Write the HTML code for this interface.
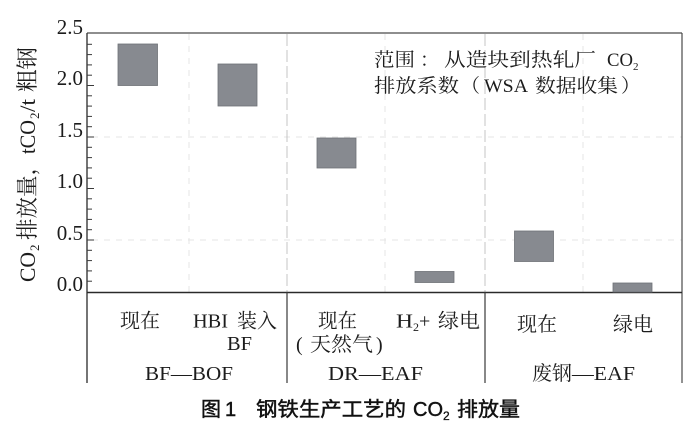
<!DOCTYPE html>
<html>
<head>
<meta charset="utf-8">
<style>
  html, body { margin: 0; padding: 0; background: #ffffff; }
  svg { display: block; }
  .serif { font-family: "Liberation Serif", "Noto Serif CJK SC", serif; fill: #1c1c1c; }
  .cjk { font-family: "Noto Serif CJK SC", "Liberation Serif", serif; fill: #1c1c1c; }
  .sans { font-family: "Liberation Sans", "Noto Sans CJK SC", sans-serif; fill: #111; }
</style>
</head>
<body>
<svg width="700" height="439" viewBox="0 0 700 439" xmlns="http://www.w3.org/2000/svg">
  <rect x="0" y="0" width="700" height="439" fill="#ffffff"/>

  <!-- faint gridlines -->
  <g stroke="#e4e4e4" stroke-width="1" stroke-dasharray="6,6" fill="none">
    <line x1="189" y1="34" x2="189" y2="292"/>
    <line x1="385" y1="34" x2="385" y2="292"/>
    <line x1="583" y1="34" x2="583" y2="292"/>
    <line x1="92" y1="137" x2="682" y2="137"/>
    <line x1="92" y1="240" x2="682" y2="240"/>
  </g>
  <g stroke="#c4c4c4" stroke-width="1" stroke-dasharray="12,4" fill="none">
    <line x1="287" y1="34" x2="287" y2="292"/>
    <line x1="485" y1="34" x2="485" y2="292"/>
  </g>

  <!-- frame -->
  <line x1="87" y1="33" x2="682" y2="33" stroke="#4a4a4a" stroke-width="1.2"/>
  <line x1="87" y1="33" x2="87" y2="383" stroke="#3a3a3a" stroke-width="1.4"/>
  <line x1="682" y1="33" x2="682" y2="383" stroke="#4a4a4a" stroke-width="1.2"/>
  <line x1="87" y1="292.5" x2="682" y2="292.5" stroke="#2a2a2a" stroke-width="1.6"/>
  <line x1="287" y1="292" x2="287" y2="383" stroke="#3a3a3a" stroke-width="1.2"/>
  <line x1="485" y1="292" x2="485" y2="383" stroke="#3a3a3a" stroke-width="1.2"/>

  <!-- y ticks -->
  <g stroke="#3a3a3a" stroke-width="1">
    <line x1="87" y1="44.3" x2="92" y2="44.3"/>
    <line x1="87" y1="54.6" x2="92" y2="54.6"/>
    <line x1="87" y1="64.9" x2="92" y2="64.9"/>
    <line x1="87" y1="75.2" x2="92" y2="75.2"/>
    <line x1="87" y1="85.5" x2="94" y2="85.5"/>
    <line x1="87" y1="95.8" x2="92" y2="95.8"/>
    <line x1="87" y1="106.1" x2="92" y2="106.1"/>
    <line x1="87" y1="116.4" x2="92" y2="116.4"/>
    <line x1="87" y1="126.7" x2="92" y2="126.7"/>
    <line x1="87" y1="137" x2="94" y2="137"/>
    <line x1="87" y1="147.3" x2="92" y2="147.3"/>
    <line x1="87" y1="157.6" x2="92" y2="157.6"/>
    <line x1="87" y1="167.9" x2="92" y2="167.9"/>
    <line x1="87" y1="178.2" x2="92" y2="178.2"/>
    <line x1="87" y1="188.5" x2="94" y2="188.5"/>
    <line x1="87" y1="198.8" x2="92" y2="198.8"/>
    <line x1="87" y1="209.1" x2="92" y2="209.1"/>
    <line x1="87" y1="219.4" x2="92" y2="219.4"/>
    <line x1="87" y1="229.7" x2="92" y2="229.7"/>
    <line x1="87" y1="240" x2="94" y2="240"/>
    <line x1="87" y1="250.3" x2="92" y2="250.3"/>
    <line x1="87" y1="260.6" x2="92" y2="260.6"/>
    <line x1="87" y1="270.9" x2="92" y2="270.9"/>
    <line x1="87" y1="281.2" x2="92" y2="281.2"/>
  </g>

  <!-- y tick labels -->
  <g class="serif" font-size="21" text-anchor="end">
    <text x="83" y="34">2.5</text>
    <text x="83" y="85">2.0</text>
    <text x="83" y="137">1.5</text>
    <text x="83" y="188">1.0</text>
    <text x="83" y="240">0.5</text>
    <text x="83" y="291">0.0</text>
  </g>

  <!-- y axis title (rotated) -->
  <g transform="translate(35,282) rotate(-90)">
    <text class="serif" x="0" y="0" font-size="22" textLength="30" lengthAdjust="spacingAndGlyphs">CO</text>
    <text class="serif" x="31" y="4" font-size="13">2</text>
    <text class="cjk" x="42" y="0" font-size="22" textLength="86" lengthAdjust="spacingAndGlyphs">排放量，</text>
    <text class="serif" x="128" y="0" font-size="22" textLength="34" lengthAdjust="spacingAndGlyphs">tCO</text>
    <text class="serif" x="163" y="4" font-size="13">2</text>
    <text class="serif" x="170" y="0" font-size="22" textLength="13" lengthAdjust="spacingAndGlyphs">/t</text>
    <text class="cjk" x="190" y="0" font-size="22" textLength="45" lengthAdjust="spacingAndGlyphs">粗钢</text>
  </g>

  <!-- bars -->
  <g fill="#878a90" stroke="#6e7176" stroke-width="0.8">
    <rect x="118" y="44" width="39.5" height="41.5"/>
    <rect x="218" y="64" width="39" height="42"/>
    <rect x="317" y="138" width="39" height="30"/>
    <rect x="415" y="271.5" width="39" height="11"/>
    <rect x="514.5" y="231" width="39" height="30.5"/>
    <rect x="613" y="283" width="39" height="9"/>
  </g>

  <!-- annotation -->
  <g font-size="19">
    <text class="cjk" x="374" y="66" textLength="41" lengthAdjust="spacingAndGlyphs">范围</text>
    <text class="cjk" x="420" y="66">：</text>
    <text class="cjk" x="444" y="66" textLength="152" lengthAdjust="spacingAndGlyphs">从造块到热轧厂</text>
    <text class="serif" x="607" y="66" textLength="26" lengthAdjust="spacingAndGlyphs">CO</text>
    <text class="serif" x="633" y="70" font-size="11">2</text>
    <text class="cjk" x="374" y="92" textLength="85" lengthAdjust="spacingAndGlyphs">排放系数</text>
    <text class="cjk" x="461" y="92">（</text>
    <text class="serif" x="484" y="92" textLength="44" lengthAdjust="spacingAndGlyphs">WSA</text>
    <text class="cjk" x="535" y="92" textLength="83" lengthAdjust="spacingAndGlyphs">数据收集</text>
    <text class="cjk" x="621" y="92">）</text>
  </g>

  <!-- category labels -->
  <g font-size="20">
    <text class="cjk" x="120" y="327.5" textLength="40" lengthAdjust="spacingAndGlyphs">现在</text>
    <text class="serif" x="193" y="327.5" textLength="35" lengthAdjust="spacingAndGlyphs">HBI</text>
    <text class="cjk" x="237" y="327.5" textLength="40" lengthAdjust="spacingAndGlyphs">装入</text>
    <text class="serif" x="227" y="350" textLength="25" lengthAdjust="spacingAndGlyphs">BF</text>

    <text class="cjk" x="318" y="327.5" textLength="39" lengthAdjust="spacingAndGlyphs">现在</text>
    <text class="serif" x="296" y="351">(</text>
    <text class="cjk" x="310" y="351" textLength="63" lengthAdjust="spacingAndGlyphs">天然气</text>
    <text class="serif" x="376" y="351">)</text>

    <text class="serif" x="396" y="327.5" textLength="17" lengthAdjust="spacingAndGlyphs">H</text>
    <text class="serif" x="413" y="331" font-size="12">2</text>
    <text class="serif" x="419" y="327.5">+</text>
    <text class="cjk" x="438" y="327.5" textLength="42" lengthAdjust="spacingAndGlyphs">绿电</text>

    <text class="cjk" x="517" y="331" textLength="40" lengthAdjust="spacingAndGlyphs">现在</text>
    <text class="cjk" x="613" y="331" textLength="40" lengthAdjust="spacingAndGlyphs">绿电</text>

    <text class="serif" x="145" y="380" textLength="88" lengthAdjust="spacingAndGlyphs">BF—BOF</text>
    <text class="serif" x="328" y="380" textLength="95" lengthAdjust="spacingAndGlyphs">DR—EAF</text>
    <text class="cjk" x="532" y="380" textLength="40" lengthAdjust="spacingAndGlyphs">废钢</text>
    <text class="serif" x="572" y="380" textLength="63" lengthAdjust="spacingAndGlyphs">—EAF</text>
  </g>

  <!-- caption -->
  <g class="sans" font-size="20" stroke="#111" stroke-width="0.45">
    <text x="201" y="416">图</text>
    <text x="225" y="416">1</text>
    <text x="256" y="416" textLength="150" lengthAdjust="spacingAndGlyphs">钢铁生产工艺的</text>
    <text x="413" y="416" textLength="30" lengthAdjust="spacingAndGlyphs">CO</text>
    <text x="443" y="420" font-size="12" stroke-width="0.3">2</text>
    <text x="457" y="416" textLength="63" lengthAdjust="spacingAndGlyphs">排放量</text>
  </g>
</svg>
</body>
</html>
